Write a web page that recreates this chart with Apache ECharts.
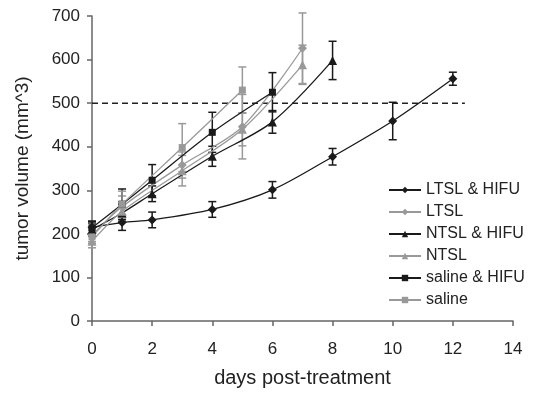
<!DOCTYPE html>
<html>
<head>
<meta charset="utf-8">
<script src="https://cdn.jsdelivr.net/npm/echarts@6/dist/echarts.min.js"></script>
<style>
  html, body { margin: 0; padding: 0; background: #fff; }
  #chart { width: 536px; height: 393px; }
</style>
</head>
<body>
<div id="chart"></div>
<script>
// values (day, mean volume, error)
const groupNames = ["LTSL & HIFU", "LTSL", "NTSL & HIFU", "NTSL", "saline & HIFU", "saline"];

const daysLtslHifu = [0, 1, 2, 4, 6, 8, 10, 12];
const volLtslHifu = [215, 226, 232, 256, 301, 377, 459, 556];
const errLtslHifu = [14, 18, 18, 18, 19, 19, 43, 15];

const daysLtsl = [0, 1, 3, 5, 7];
const volLtsl = [197, 262, 358, 446, 626];
const errLtsl = [15, 25, 30, 74, 81];

const daysNtslHifu = [0, 1, 2, 4, 6, 8];
const volNtslHifu = [210, 248, 292, 378, 457, 598];
const errNtslHifu = [15, 20, 18, 23, 26, 44];

const daysNtsl = [0, 1, 3, 5, 7];
const volNtsl = [183, 252, 345, 440, 588];
const errNtsl = [15, 22, 35, 38, 45];

const daysSalineHifu = [0, 1, 2, 4, 6];
const volSalineHifu = [214, 268, 323, 433, 525];
const errSalineHifu = [15, 35, 36, 46, 45];

const daysSaline = [0, 1, 3, 5];
const volSaline = [193, 268, 398, 530];
const errSaline = [15, 30, 55, 53];

const thresholdVolume = 500;
const thresholdDays = [0, 12.4];

const FONT = "Liberation Sans";
const BLACK = "#1a1a1a";
const GREY = "#999";

const chart = echarts.init(document.getElementById("chart"));

function toPoints(days, vol) {
    return days.map((d, i) => [d, vol[i]]);
}
function toErrors(days, vol, err) {
    return days.map((d, i) => [d, vol[i] - err[i], vol[i] + err[i]]);
}

function errorBars(color) {
    return function (params, api) {
        const x = api.value(0);
        const top = api.coord([x, api.value(2)]);
        const bot = api.coord([x, api.value(1)]);
        const w = 4;
        const style = { stroke: color, lineWidth: 1.5 };
        return {
            type: "group",
            children: [
                { type: "line", shape: { x1: top[0], y1: top[1], x2: bot[0], y2: bot[1] }, style },
                { type: "line", shape: { x1: top[0] - w, y1: top[1], x2: top[0] + w, y2: top[1] }, style },
                { type: "line", shape: { x1: bot[0] - w, y1: bot[1], x2: bot[0] + w, y2: bot[1] }, style },
            ],
        };
    };
}

const groups = [
    { name: groupNames[0], days: daysLtslHifu, vol: volLtslHifu, err: errLtslHifu, color: BLACK, symbol: "diamond", size: 9 },
    { name: groupNames[1], days: daysLtsl, vol: volLtsl, err: errLtsl, color: GREY, symbol: "diamond", size: 9 },
    { name: groupNames[2], days: daysNtslHifu, vol: volNtslHifu, err: errNtslHifu, color: BLACK, symbol: "triangle", size: 9 },
    { name: groupNames[3], days: daysNtsl, vol: volNtsl, err: errNtsl, color: GREY, symbol: "triangle", size: 9 },
    { name: groupNames[4], days: daysSalineHifu, vol: volSalineHifu, err: errSalineHifu, color: BLACK, symbol: "rect", size: 7 },
    { name: groupNames[5], days: daysSaline, vol: volSaline, err: errSaline, color: GREY, symbol: "rect", size: 7 },
];

const series = [
    {
        type: "line",
        silent: true,
        symbol: "none",
        data: thresholdDays.map((d) => [d, thresholdVolume]),
        lineStyle: { color: "#222", width: 1.5, type: [6, 4] },
        z: 1,
    },
];

groups.forEach((g) => {
    series.push({
        type: "custom",
        renderItem: errorBars(g.color),
        data: toErrors(g.days, g.vol, g.err),
        z: 2,
        silent: true,
    });
});
groups.forEach((g) => {
    series.push({
        name: g.name,
        type: "line",
        smooth: 0.3,
        symbol: g.symbol,
        symbolSize: g.size,
        data: toPoints(g.days, g.vol),
        itemStyle: { color: g.color },
        lineStyle: { color: g.color, width: 1.3 },
        z: 3,
    });
});

const option = {
    animation: false,
    grid: { left: 92, right: 23, top: 16, bottom: 70 },
    legend: {
        data: groupNames,
        orient: "vertical",
        left: 383,
        top: 177,
        itemWidth: 32,
        itemHeight: 8,
        itemGap: 6,
        textStyle: { fontFamily: FONT, fontSize: 16, color: "#222", lineHeight: 16 },
    },
    xAxis: {
        type: "value",
        min: 0,
        max: 14,
        interval: 2,
        name: "days post-treatment",
        nameLocation: "middle",
        nameGap: 47,
        nameTextStyle: { fontFamily: FONT, fontSize: 20, color: "#222" },
        axisLine: { lineStyle: { color: "#666", width: 1.5 } },
        axisTick: { show: true, length: 5, lineStyle: { color: "#666", width: 1.5 } },
        axisLabel: { fontFamily: FONT, fontSize: 17, color: "#222", margin: 20 },
        splitLine: { show: false },
    },
    yAxis: {
        type: "value",
        min: 0,
        max: 700,
        interval: 100,
        name: "tumor volume (mm^3)",
        nameLocation: "middle",
        nameGap: 60,
        nameTextStyle: { fontFamily: FONT, fontSize: 19, color: "#222" },
        axisLine: { show: true, lineStyle: { color: "#666", width: 1.5 } },
        axisTick: { show: true, length: 5, lineStyle: { color: "#666", width: 1.5 } },
        axisLabel: { fontFamily: FONT, fontSize: 17, color: "#222", margin: 12 },
        splitLine: { show: false },
    },
    series,
};

chart.setOption(option);
</script>
</body>
</html>
